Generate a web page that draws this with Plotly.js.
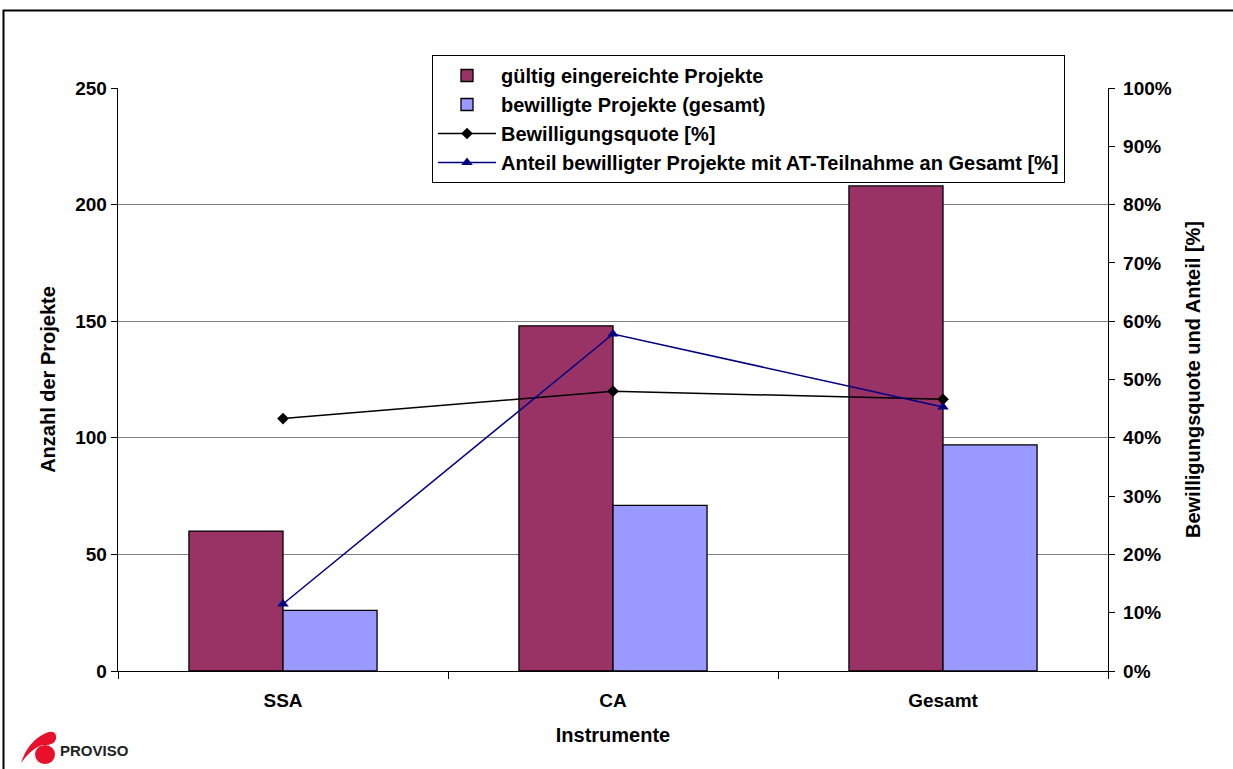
<!DOCTYPE html>
<html>
<head>
<meta charset="utf-8">
<script src="https://cdn.plot.ly/plotly-3.0.1.min.js"></script>
<style>
  html, body { margin: 0; padding: 0; background: #fff; }
  #chart { width: 1233px; height: 769px; }
</style>
</head>
<body>
<div id="chart"></div>
<script>
// Kategorien (Instrumente)
const instrumente = ['SSA', 'CA', 'Gesamt'];
// Anzahl der Projekte
const eingereicht = [60, 148, 208];
const bewilligt = [26, 71, 97];
// Quoten in Prozent
const bewilligungsquote = [43.3, 48.0, 46.6];
const anteilAT = [11.5, 57.8, 45.3];

// Plotbereich in Pixeln (für Rahmen und Logo)
const W = 1233, H = 769;
const M = { l: 118, r: 125, t: 88, b: 98 };
const PW = W - M.l - M.r, PH = H - M.t - M.b;
const px = x => (x - M.l) / PW;
const py = y => (H - M.b - y) / PH;

const F = 'Liberation Sans, Arial, sans-serif';
const tickFont = { family: F, size: 19, color: '#000', weight: 'bold' };
const textFont = { family: F, size: 20, color: '#000', weight: 'bold' };

const traces = [
  {
    type: 'bar', name: 'gültig eingereichte Projekte',
    x: instrumente, y: eingereicht,
    marker: { color: '#993366', line: { color: '#000', width: 1.3 } },
    yaxis: 'y'
  },
  {
    type: 'bar', name: 'bewilligte Projekte (gesamt)',
    x: instrumente, y: bewilligt,
    marker: { color: '#9999FF', line: { color: '#000', width: 1.3 } },
    yaxis: 'y'
  },
  {
    type: 'scatter', mode: 'lines+markers', name: 'Bewilligungsquote [%]',
    x: instrumente, y: bewilligungsquote.map(v => v / 100),
    line: { color: '#000', width: 1.5 },
    marker: { symbol: 'diamond', size: 9, color: '#000' },
    yaxis: 'y2'
  },
  {
    type: 'scatter', mode: 'lines+markers', name: 'Anteil bewilligter Projekte mit AT-Teilnahme an Gesamt [%]',
    x: instrumente, y: anteilAT.map(v => v / 100),
    line: { color: '#000080', width: 1.5 },
    marker: { symbol: 'triangle-up', size: 10, color: '#000080' },
    yaxis: 'y2'
  }
];

const layout = {
  width: W, height: H,
  margin: M,
  paper_bgcolor: '#fff', plot_bgcolor: '#fff',
  barmode: 'group', bargap: 0.43, bargroupgap: 0,
  showlegend: true,
  legend: {
    x: px(432), y: py(55), xanchor: 'left', yanchor: 'top',
    bgcolor: '#fff', bordercolor: '#000', borderwidth: 1,
    font: textFont, tracegroupgap: 0, traceorder: 'normal',
    itemwidth: 58
  },
  xaxis: {
    showline: true, linecolor: '#000', linewidth: 1.3,
    ticks: 'outside', ticklen: 7, tickcolor: '#000', tickson: 'boundaries',
    tickfont: tickFont, ticklabelstandoff: 12, showgrid: false,
    title: { text: 'Instrumente', font: textFont, standoff: 18 }
  },
  yaxis: {
    range: [0, 250], dtick: 50, tickmode: 'linear', tick0: 0,
    showline: true, linecolor: '#000', linewidth: 1.3,
    ticks: 'outside', ticklen: 6, tickcolor: '#000',
    tickfont: tickFont, showgrid: true, gridcolor: '#808080', gridwidth: 1.2,
    zeroline: false,
    title: { text: 'Anzahl der Projekte', font: textFont, standoff: 14 }
  },
  yaxis2: {
    range: [0, 1], dtick: 0.1, tickmode: 'linear', tick0: 0, tickformat: '.0%',
    overlaying: 'y', side: 'right',
    showline: true, linecolor: '#000', linewidth: 1.3,
    ticks: 'outside', ticklen: 6, tickcolor: '#000',
    tickfont: tickFont, ticklabelstandoff: 4, showgrid: false, zeroline: false,
    title: { text: 'Bewilligungsquote und Anteil [%]', font: textFont, standoff: 15 }
  },
  shapes: [
    // äußerer Rahmen (links und oben)
    {
      type: 'path', xref: 'paper', yref: 'paper',
      path: `M ${px(3.5)} ${py(800)} L ${px(3.5)} ${py(10.5)} L ${px(1300)} ${py(10.5)}`,
      line: { color: '#000', width: 2 }
    },
    // PROVISO-Logo: Schwung
    {
      type: 'path', xref: 'paper', yref: 'paper',
      path: `M ${px(21)} ${py(763)} Q ${px(28)} ${py(741)} ${px(46)} ${py(733)} ` +
            `Q ${px(57)} ${py(729)} ${px(56)} ${py(739)} Q ${px(54)} ${py(746)} ${px(42)} ${py(745)} ` +
            `Q ${px(31)} ${py(749)} ${px(21)} ${py(763)} Z`,
      fillcolor: '#e8102a', line: { width: 0 }
    },
    // PROVISO-Logo: Kreis
    {
      type: 'circle', xref: 'paper', yref: 'paper',
      x0: px(35), x1: px(55), y0: py(764), y1: py(745),
      fillcolor: '#e8102a', line: { width: 0 }
    }
  ],
  annotations: [
    {
      text: 'PROVISO', xref: 'paper', yref: 'paper',
      x: px(58), y: py(750), xanchor: 'left', yanchor: 'middle',
      showarrow: false,
      font: { family: 'Liberation Sans Narrow, Arial Narrow, Liberation Sans, sans-serif', size: 15, color: '#222', weight: 'bold' }
    }
  ]
};

Plotly.newPlot('chart', traces, layout, { displayModeBar: false, staticPlot: true });
</script>
</body>
</html>
